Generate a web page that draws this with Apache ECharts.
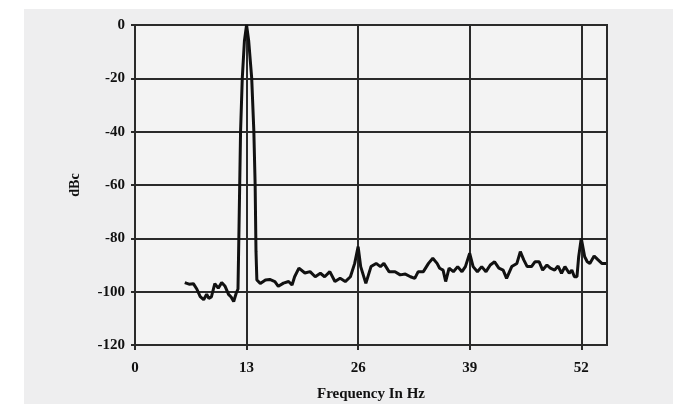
<!DOCTYPE html>
<html><head><meta charset="utf-8">
<script src="https://cdn.jsdelivr.net/npm/echarts@6/dist/echarts.min.js"></script>
<style>html,body{margin:0;padding:0;background:#fff}#c{width:673px;height:404px}</style>
</head><body><div id="c"></div>
<script>
const freqHz = [5.8,6.3,6.8,7.2,7.6,8.0,8.35,8.6,8.9,9.3,9.7,10.1,10.5,10.9,11.2,11.5,11.8,12.0,12.1,12.2,12.3,12.5,12.75,13.0,13.25,13.6,13.85,14.0,14.1,14.2,14.6,15.2,15.7,16.3,16.7,17.3,17.9,18.3,18.6,19.1,19.8,20.4,21.0,21.6,22.1,22.7,23.3,23.9,24.5,25.1,25.6,26.0,26.3,26.9,27.5,28.1,28.6,29.0,29.6,30.3,30.9,31.5,32.1,32.6,33.0,33.6,34.2,34.7,35.2,35.5,35.9,36.2,36.6,37.1,37.6,38.1,38.5,39.0,39.4,39.9,40.4,40.9,41.4,41.9,42.4,42.9,43.3,43.9,44.5,44.9,45.3,45.7,46.2,46.6,47.1,47.5,48.0,48.4,48.9,49.3,49.7,50.1,50.6,50.9,51.2,51.5,51.7,52.0,52.4,52.7,53.0,53.5,53.9,54.4,54.9];
const levelDbc = [-96.6,-97.2,-97,-99,-101.9,-103,-101,-102.5,-102,-97,-98.7,-96.6,-98,-101,-102,-103.7,-100.5,-99,-80,-60,-40,-20,-6,0,-6,-20,-40,-60,-85,-95.6,-96.9,-95.6,-95.4,-96.2,-98,-96.8,-96.2,-97.5,-94.4,-91.2,-93,-92.5,-94.4,-93.1,-94.4,-92.5,-96.2,-95,-96.2,-94.4,-89.4,-83.1,-90.6,-96.9,-90.6,-89.4,-90.6,-89.4,-92.5,-92.5,-93.7,-93.4,-94.4,-95,-92.5,-92.5,-89.4,-87.5,-89.4,-91.2,-91.9,-96.2,-91.2,-92.5,-90.6,-92.5,-90.6,-85.6,-90.6,-92.5,-90.6,-92.5,-90,-88.8,-91.2,-91.9,-95,-90.6,-89.4,-85,-88.1,-90.6,-90.6,-88.8,-88.8,-91.9,-90,-91.2,-91.9,-90.4,-93.1,-90.6,-93.1,-91.9,-94.4,-94.4,-86.9,-80,-86.9,-88.8,-89.4,-86.6,-87.9,-89.4,-89.4];
const xTicks = [0,13,26,39,52];
const yTicks = [0,-20,-40,-60,-80,-100,-120];

const chart = echarts.init(document.getElementById('c'), null, {renderer:'canvas'});
const font = '"Liberation Serif","DejaVu Serif",serif';
chart.setOption({
  animation:false,
  backgroundColor:'#ffffff',
  graphic:[{type:'rect',z:-10,silent:true,shape:{x:24,y:9,width:649,height:395},style:{fill:'#eeeeef'}}],
  grid:{left:135,right:66,top:25,bottom:59,outerBoundsMode:'none',containLabel:false,show:true,backgroundColor:'#f3f3f3',borderColor:'#2a2a2a',borderWidth:2},
  xAxis:{type:'value',min:0,max:55,interval:13,
    name:'Frequency In Hz',nameLocation:'middle',nameGap:42,
    nameTextStyle:{fontFamily:font,fontWeight:'bold',fontSize:15,color:'#111'},
    axisLine:{show:true,onZero:false,lineStyle:{color:'#2a2a2a',width:2}},
    axisTick:{show:true,length:5,lineStyle:{color:'#2a2a2a',width:2},customValues:xTicks},
    axisLabel:{fontFamily:font,fontWeight:'bold',fontSize:15,color:'#111',margin:16,customValues:xTicks},
    splitLine:{show:true,lineStyle:{color:'#2a2a2a',width:2}}},
  yAxis:{type:'value',min:-120,max:0,interval:20,
    name:'dBc',nameLocation:'middle',nameGap:53,nameRotate:90,
    nameTextStyle:{fontFamily:font,fontWeight:'bold',fontSize:14,color:'#111'},
    axisLine:{show:true,lineStyle:{color:'#2a2a2a',width:2}},
    axisTick:{show:true,length:4,lineStyle:{color:'#2a2a2a',width:2},customValues:yTicks},
    axisLabel:{fontFamily:font,fontWeight:'bold',fontSize:15,color:'#111',margin:10,customValues:yTicks},
    splitLine:{show:true,lineStyle:{color:'#2a2a2a',width:2}}},
  series:[{type:'line',data:freqHz.map((f,i)=>[f,levelDbc[i]]),showSymbol:false,
    lineStyle:{color:'#111',width:3},z:5}]
});
</script></body></html>
